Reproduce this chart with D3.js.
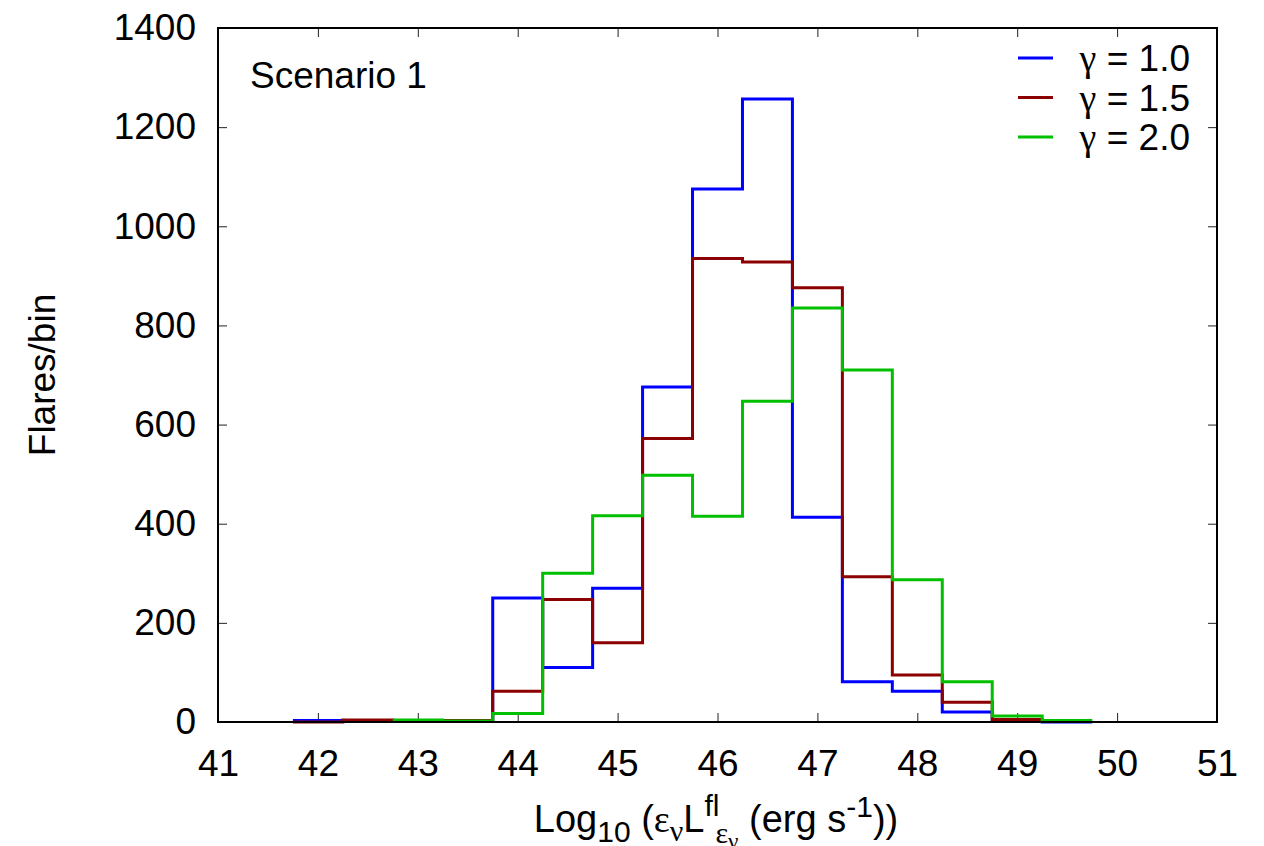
<html>
<head>
    <title>Scenario 1 flares</title>
</head>
<script src='https://d3js.org/d3.v7.min.js'></script>
<style>
    body {margin: 0; background: white;}
    text {font-family: "Liberation Sans", Arial, Helvetica, sans-serif;}
    .axis text {font-size: 37px; fill: black;}
    .axis line {stroke: #222; stroke-width: 1;}
    .axis path {display: none;}
    .greek {font-family: "Liberation Serif", "DejaVu Serif", serif;}
</style>
<body>
<svg width=1264 height=846></svg>

<script>
    // bin centres, bins are 0.5 wide
    var binCenters = [42, 42.5, 43, 43.5, 44, 44.5, 45, 45.5, 46, 46.5, 47, 47.5, 48, 48.5, 49, 49.5];
    var gamma10 = [3, 1, 1, 1, 250, 110, 270, 676, 1075, 1257, 413, 81, 62, 20, 2, 0];
    var gamma15 = [0, 4, 2, 3, 62, 247, 160, 572, 935, 928, 876, 293, 95, 40, 5, 3];
    var gamma20 = [null, null, 4, 2, 17, 300, 416, 498, 415, 647, 835, 710, 287, 81, 12, 3];
    var seriesNames = ["1.0", "1.5", "2.0"];
    var seriesColors = ["#0000ff", "#8b0000", "#00c000"];
    var xTicks = [41, 42, 43, 44, 45, 46, 47, 48, 49, 50, 51];
    var yTicks = [0, 200, 400, 600, 800, 1000, 1200, 1400];

    var plotL = 218, plotR = 1217, plotT = 28, plotB = 722;
    var binWidth = 0.5;

    var x = d3.scaleLinear().domain([41, 51]).range([plotL, plotR]);
    var y = d3.scaleLinear().domain([0, 1400]).range([plotB, plotT]);

    var svg = d3.select('svg');

    // ticks on all four sides, pointing in
    svg.append('g').attr('class', 'axis')
        .attr('transform', 'translate(0,' + plotB + ')')
        .call(d3.axisBottom(x).tickValues(xTicks).tickSize(-9).tickPadding(28).tickFormat(d3.format('d')));
    svg.append('g').attr('class', 'axis')
        .attr('transform', 'translate(0,' + plotT + ')')
        .call(d3.axisTop(x).tickValues(xTicks).tickSize(-9).tickFormat(''));
    svg.append('g').attr('class', 'axis')
        .attr('transform', 'translate(' + plotL + ',0)')
        .call(d3.axisLeft(y).tickValues(yTicks).tickSize(-9).tickPadding(22).tickFormat(d3.format('d')));
    svg.append('g').attr('class', 'axis')
        .attr('transform', 'translate(' + plotR + ',0)')
        .call(d3.axisRight(y).tickValues(yTicks).tickSize(-9).tickFormat(''));

    svg.selectAll('.axis text').attr('font-family', '"Liberation Sans", Arial, sans-serif');

    // histogram steps
    var stepLine = d3.line()
        .x(function(d) { return x(d[0]); })
        .y(function(d) { return y(d[1]); })
        .curve(d3.curveStepAfter);

    function stepPoints(values) {
        var pts = [];
        values.forEach(function(v, i) {
            if (v === null) return;
            pts.push([binCenters[i] - binWidth / 2, v]);
        });
        var last = values.length - 1;
        pts.push([binCenters[last] + binWidth / 2, values[last]]);
        return pts;
    }

    [gamma10, gamma15, gamma20].forEach(function(vals, i) {
        svg.append('path')
            .attr('d', stepLine(stepPoints(vals)))
            .attr('fill', 'none')
            .attr('stroke', seriesColors[i])
            .attr('stroke-width', 3);
    });

    // frame
    svg.append('rect')
        .attr('x', plotL).attr('y', plotT)
        .attr('width', plotR - plotL).attr('height', plotB - plotT)
        .attr('fill', 'none').attr('stroke', 'black').attr('stroke-width', 2);

    // legend
    var legend = svg.append('g').selectAll('g').data(seriesNames).enter().append('g')
        .attr('transform', function(d, i) { return 'translate(0,' + (58 + i * 39.5) + ')'; });
    legend.append('line')
        .attr('x1', 1018).attr('x2', 1053)
        .attr('stroke', function(d, i) { return seriesColors[i]; })
        .attr('stroke-width', 3);
    var lt = legend.append('text')
        .attr('x', 1190).attr('dy', '0.36em')
        .attr('text-anchor', 'end')
        .attr('font-size', 37);
    lt.append('tspan').attr('class', 'greek').attr('font-size', 38).text('γ');
    lt.append('tspan').text(function(d) { return ' = ' + d; });

    svg.append('text')
        .attr('x', 250).attr('y', 88)
        .attr('font-size', 37)
        .text('Scenario 1');

    // y label
    svg.append('text')
        .attr('transform', 'translate(55,375) rotate(-90)')
        .attr('text-anchor', 'middle')
        .attr('font-size', 37)
        .text('Flares/bin');

    // x label with sub/superscripts
    var xl = svg.append('text')
        .attr('x', 716).attr('y', 832)
        .attr('text-anchor', 'middle')
        .attr('font-size', 38);
    xl.append('tspan').text('Log');
    xl.append('tspan').attr('font-size', 30).attr('dy', 10).text('10');
    xl.append('tspan').attr('dy', -10).text(' (');
    xl.append('tspan').attr('class', 'greek').text('ε');
    xl.append('tspan').attr('class', 'greek').attr('font-size', 30).attr('dy', 9).text('ν');
    xl.append('tspan').attr('dy', -9).text('L');
    xl.append('tspan').attr('font-size', 30).attr('dy', -16).text('fl');
    xl.append('tspan').attr('class', 'greek').attr('font-size', 30).attr('dx', -4).attr('dy', 27).text('ε');
    xl.append('tspan').attr('class', 'greek').attr('font-size', 23).attr('dy', 6).text('ν');
    xl.append('tspan').attr('dy', -17).text(' (erg s');
    xl.append('tspan').attr('font-size', 30).attr('dy', -15).text('-1');
    xl.append('tspan').attr('dy', 15).text('))');
</script>

</body>
</html>
